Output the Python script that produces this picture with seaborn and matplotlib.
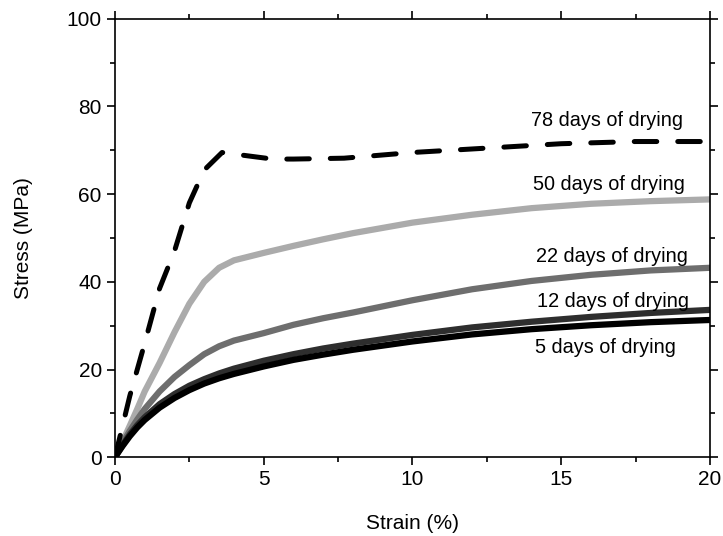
import pandas as pd
import numpy as np
from matplotlib import pyplot as plt
from matplotlib.ticker import MultipleLocator
import seaborn as sns

# stress-strain readings (strain in %, stress in MPa)
strain = [0, 0.25, 0.5, 0.75, 1, 1.5, 2, 2.5, 3, 3.5, 4, 5, 6, 7, 8, 10, 12, 14, 16, 18, 20]
stress_5d = [0, 2.5, 4.8, 6.8, 8.5, 11.3, 13.5, 15.3, 16.8, 18, 19, 20.7, 22.2, 23.4, 24.5,
             26.4, 28, 29.2, 30.1, 30.8, 31.3]
stress_12d = [0, 2.7, 5.2, 7.3, 9.1, 12.1, 14.4, 16.3, 17.8, 19.1, 20.2, 22, 23.5, 24.8, 25.9,
              27.9, 29.6, 30.9, 32, 32.9, 33.6]
stress_22d = [0, 3.2, 6, 8.6, 11, 15, 18.3, 21, 23.5, 25.3, 26.6, 28.3, 30.2, 31.7, 33,
              35.8, 38.3, 40.2, 41.6, 42.6, 43.2]
stress_50d = [0, 3.5, 7.2, 11, 15, 21.5, 28.5, 35, 40, 43.2, 44.9, 46.6, 48.2, 49.7, 51.1,
              53.5, 55.3, 56.8, 57.8, 58.4, 58.8]

strain_78d = [0, 0.5, 1, 1.5, 2, 2.5, 3, 3.6, 4.5, 5.3, 6, 7.7, 10, 12.5, 15, 17.5, 20]
stress_78d = [0, 14, 26, 38.5, 47, 58, 65.5, 69.5, 68.7, 68, 68, 68.2, 69.5, 70.5, 71.5, 72, 72]

labels = ['5 days of drying', '12 days of drying', '22 days of drying',
          '50 days of drying', '78 days of drying']
label_x = [16.5, 16.75, 16.7, 16.6, 16.55]
label_y = [25, 35.5, 45.7, 62.1, 76.9]

sns.set_theme(style="ticks")
plt.rcParams['font.family'] = ['Liberation Sans', 'DejaVu Sans']
plt.rcParams['text.color'] = 'black'
plt.rcParams['xtick.color'] = 'black'
plt.rcParams['ytick.color'] = 'black'
plt.rcParams['axes.labelcolor'] = 'black'

fig, ax = plt.subplots(figsize=(7.23, 5.36), dpi=100)
fig.subplots_adjust(left=0.159, right=0.982, bottom=0.147, top=0.965)

# solid curves, light to dark
sns.lineplot(x=strain, y=stress_50d, ax=ax, color='#ababab', lw=4.5)
sns.lineplot(x=strain, y=stress_22d, ax=ax, color='#6e6e6e', lw=4.5)
sns.lineplot(x=strain, y=stress_12d, ax=ax, color='#2e2e2e', lw=4.5)
sns.lineplot(x=strain, y=stress_5d, ax=ax, color='black', lw=4.5)

line78 = sns.lineplot(x=strain_78d, y=stress_78d, ax=ax, color='black', lw=3.6).lines[-1]
line78.set_dashes((4.5, 4.2))
line78.set_dash_capstyle('round')

# curve labels
for txt, xv, yv in zip(labels, label_x, label_y):
    ax.text(xv, yv, txt, ha='center', va='center', fontsize=14.3)

ax.set_xlim(0, 20)
ax.set_ylim(0, 100)
ax.xaxis.set_major_locator(MultipleLocator(5))
ax.xaxis.set_minor_locator(MultipleLocator(2.5))
ax.yaxis.set_major_locator(MultipleLocator(20))
ax.yaxis.set_minor_locator(MultipleLocator(10))
ax.tick_params(which='both', direction='out', top=True, right=True,
               labeltop=False, labelright=False, width=1.2)
ax.tick_params(which='major', length=6, labelsize=15)
ax.tick_params(which='minor', length=3.5)
for s in ax.spines.values():
    s.set_color('black')
    s.set_linewidth(1.2)

ax.set_xlabel('Strain (%)', fontsize=15, labelpad=18)
ax.set_ylabel('Stress (MPa)', fontsize=15, labelpad=24)

fig.savefig('out.png', dpi=100)
